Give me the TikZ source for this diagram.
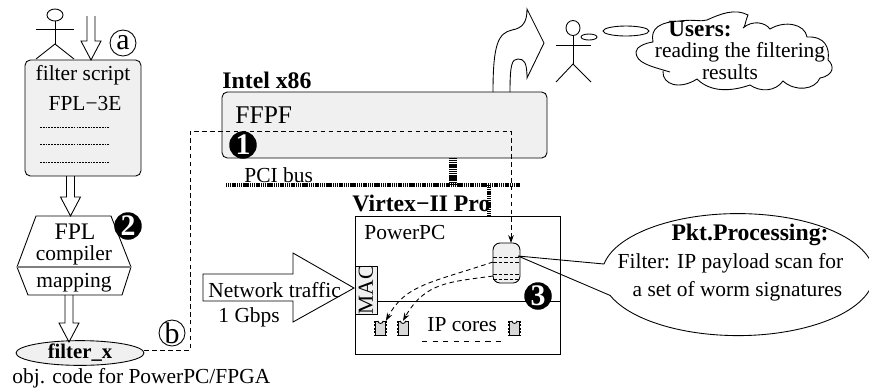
\documentclass[tikz,border=0pt]{standalone}
\usepackage{fontspec}
\usepackage{xcolor}
\setmainfont{Liberation Serif}
\usetikzlibrary{arrows.meta,shapes.geometric,calc}
\definecolor{boxgray}{gray}{0.94}
\newcommand{\hollowdown}[2]{\draw ($(#1)+(-4,0)$) -- ($(#2)+(-4,-19)$) -- ($(#2)+(-10,-19)$) -- (#2)
  -- ($(#2)+(10,-19)$) -- ($(#2)+(4,-19)$) -- ($(#1)+(4,0)$);}

\begin{document}
\begin{tikzpicture}[
  x=0.02cm,y=-0.02cm,line width=0.5pt,
  every node/.style={font=\fontsize{12.2}{14}\selectfont,inner sep=0pt},
  lbl/.style={font=\fontsize{13.5}{15}\selectfont\bfseries},
  greybox/.style={draw,fill=boxgray,rounded corners=3pt},
  letter/.style={draw,circle,minimum size=0.52cm,font=\fontsize{17}{18}\selectfont},
  blackdot/.style={circle,fill=black,text=white,minimum size=0.55cm,font=\fontsize{17}{18}\selectfont\bfseries},
  chip/.style={draw,fill=boxgray!90!black,minimum width=0.2cm,minimum height=0.29cm},
  signal/.style={dash pattern=on 2.6pt off 1.9pt,-{Stealth[length=4.5pt,width=3.2pt]}},
  busline/.style={dash pattern=on 0.7pt off 0.35pt}
]
\useasboundingbox (0,0) rectangle (869,390);

% filter script on the left
\node[greybox,minimum width=2.32cm,minimum height=2.32cm] (script) at (83,118) {};
\node (scripttxt) at (83,75) {filter script};
\node (fpl3e) at (85,103) {FPL−3E};
\foreach \y in {127,144,162}
  \draw[dash pattern=on 1pt off 0.6pt,line width=0.4pt] (40,\y) -- (109,\y);
\node[letter] (a) at (123,43) {a};

% developer
\draw (55,15) ellipse (8 and 6);
\draw (36,29) -- (74,29);
\draw (55,21) -- (55,44);
\draw (36,59) -- (55,44) -- (74,59);

% compiler
\coordinate (devin) at (91,16);
\coordinate (scriptin) at (91,60);
\coordinate (scriptout) at (70.5,176);
\coordinate (fplin) at (70.5,216);
\coordinate (fplout) at (69,295);
\coordinate (filterin) at (69,342);
\draw[fill=white] (36,216) -- (111,216) -- (131,267) -- (122,295) -- (28,295) -- (17,267) -- cycle;
\draw[gray,line width=1pt] (17,267) -- (131,267);
\node (fpl) at (75,232) {\fontsize{13.5}{16}\selectfont FPL};
\node (compiler) at (74,255) {compiler};
\node (mapping) at (74,283) {mapping};
\node[blackdot] (two) at (128,226) {2};

\node[draw,ellipse,fill=boxgray,minimum width=2.56cm,minimum height=0.48cm,
  font=\fontsize{11.8}{12}\selectfont\bfseries] (filterx) at (80,353) {filter\_x};
\node[anchor=west] (objcode) at (12,378) {obj. code for PowerPC/FPGA};
\node[letter] (b) at (172,333) {b};

\hollowdown{devin}{scriptin}
\hollowdown{scriptout}{fplin}
\hollowdown{fplout}{filterin}

% host
\node[greybox,minimum width=6.5cm,minimum height=1.32cm] (host) at (384.5,125) {};
\node[lbl,anchor=west] (intel) at (222,80) {Intel x86};
\node[anchor=west,font=\fontsize{14.5}{16}\selectfont] (ffpf) at (235,115) {FFPF};
\node[anchor=west] (pci) at (244,175) {PCI bus};

% bus
\coordinate (busl) at (226,185);
\coordinate (busr) at (520,185);
\coordinate (hostdown) at (453,158);
\coordinate (hostbus) at (453,185);
\coordinate (fpgabus) at (489,185);
\coordinate (fpgaup) at (489,215);
\draw[busline,line width=2pt] (busl) -- (busr);
\draw[busline,line width=4pt] (hostdown) -- (hostbus);

% FPGA
\node[draw,minimum width=4.1cm,minimum height=2.76cm] (fpga) at (457.5,285) {};
\node[lbl,anchor=west] (virtex) at (352,203) {Virtex−II Pro};
\draw[busline,line width=2pt] (fpgabus) -- (fpgaup);
\node[anchor=west] (ppc) at (364,232) {PowerPC};
\node[draw,fill=boxgray,minimum width=0.44cm,minimum height=0.96cm] (mac) at (366,290) {};
\node[rotate=90] (mactxt) at (366,290) {MAC};
\coordinate (fabric) at (560,301);
\draw (mac.east |- fabric) -- (fabric);
\node[blackdot] (three) at (538,296) {3};

% traffic
\draw (203,274) -- (293,274) -- (293,253) -- (354,288) -- (293,322) -- (293,301) -- (203,301) -- cycle;
\node[anchor=west] (traffic) at (208,290) {Network traffic};
\node[anchor=west] (gbps) at (218,317) {1 Gbps};

% processing unit
\node[greybox,rounded corners=4pt,minimum width=0.54cm,minimum height=0.8cm] (pkt) at (506.5,263) {};
\foreach \y in {257,262,274,279}
  \draw[dash pattern=on 2pt off 1.2pt,line width=0.4pt] (493,\y) -- (520,\y);

\node[chip] (chipa) at (380.5,328.5) {};
\node[chip] (chipb) at (403,328.5) {};
\node[chip] (chipc) at (514.5,328.5) {};
\foreach \c in {chipa,chipb,chipc} {
  \draw[densely dotted,line width=1pt] (\c.north west) -- (\c.south west);
  \draw[densely dotted,line width=1pt] (\c.north east) -- (\c.south east);
  \draw[fill=white] ([xshift=-1.5pt]\c.north) arc[start angle=180,end angle=360,radius=1.5pt];
}
\node[anchor=west] (ipcores) at (427,325) {IP cores};
\draw[dashed] (422,341) -- (503,341);

% connectors
\coordinate (xbend) at (190,350);
\coordinate (ybend) at (190,131);
\coordinate (zbend) at (511,131);
\coordinate (pktin) at (511,243);
\draw[signal] (filterx.east |- xbend) -- (xbend) -- (ybend) -- (zbend) -- (pktin);
\node[blackdot] (one) at (243,145) {1};
\coordinate (pkta) at (493,262);
\coordinate (pktb) at (493,276);
\draw[signal] (pkta) .. controls (430,283) and (405,285) .. (chipa.north east);
\draw[signal] (pktb) .. controls (450,282) and (425,282) .. (chipb.north);

% results going out
\coordinate (outl) at (493,92);
\coordinate (outr) at (510,92);
\draw (outl) .. controls (493,45) and (498,33) .. (512,30)
  .. controls (523,28) and (527,22) .. (527,9) -- (544,43) -- (527,78)
  .. controls (527,62) and (524,59) .. (518,59) .. controls (512,59) and (510,64) .. (outr);

% user
\draw (573,28) ellipse (7 and 7.5);
\draw (556,45) -- (591,45);
\draw (573,36) -- (573,64);
\draw (556,82) -- (573,64) -- (591,82);
\draw (589,37) ellipse (8 and 3);
\draw (626,31) ellipse (23 and 5);

% cloud
\draw (670,72) .. controls (650,66) and (636,63) .. (636,52) .. controls (636,47) and (645,43) .. (653,42)
  .. controls (650,28) and (660,22) .. (680,21) .. controls (695,19) and (700,22) .. (707,20)
  .. controls (720,14) and (735,8) .. (748,15) .. controls (745,22) and (745,28) .. (743,28)
  .. controls (752,20) and (765,22) .. (770,29) .. controls (785,20) and (805,24) .. (807,37)
  .. controls (825,36) and (830,48) .. (828,60) .. controls (834,65) and (835,75) .. (820,78)
  .. controls (815,90) and (795,92) .. (783,81) .. controls (775,92) and (760,92) .. (750,85)
  .. controls (730,92) and (710,92) .. (697,79) .. controls (680,90) and (662,85) .. (663,71);
\node[lbl,anchor=west,font=\fontsize{13.2}{15}\selectfont\bfseries] (users) at (668,29) {Users:};
\node (reading) at (740,52) {reading the filtering};
\node (results) at (730,72.5) {results};

% callout
\coordinate (pktout) at (518,256);
\draw (pktout) -- (604,264) arc[start angle=190,end angle=520,x radius=136,y radius=61] -- (pktout);
\node[lbl,font=\fontsize{13.5}{16}\selectfont\bfseries] (pktproc) at (750,235) {Pkt.Processing:};
\node (filtertxt) at (730.5,263) {Filter: IP payload scan for};
\node (worm) at (737.5,291) {a set of worm signatures};
\end{tikzpicture}
\end{document}
